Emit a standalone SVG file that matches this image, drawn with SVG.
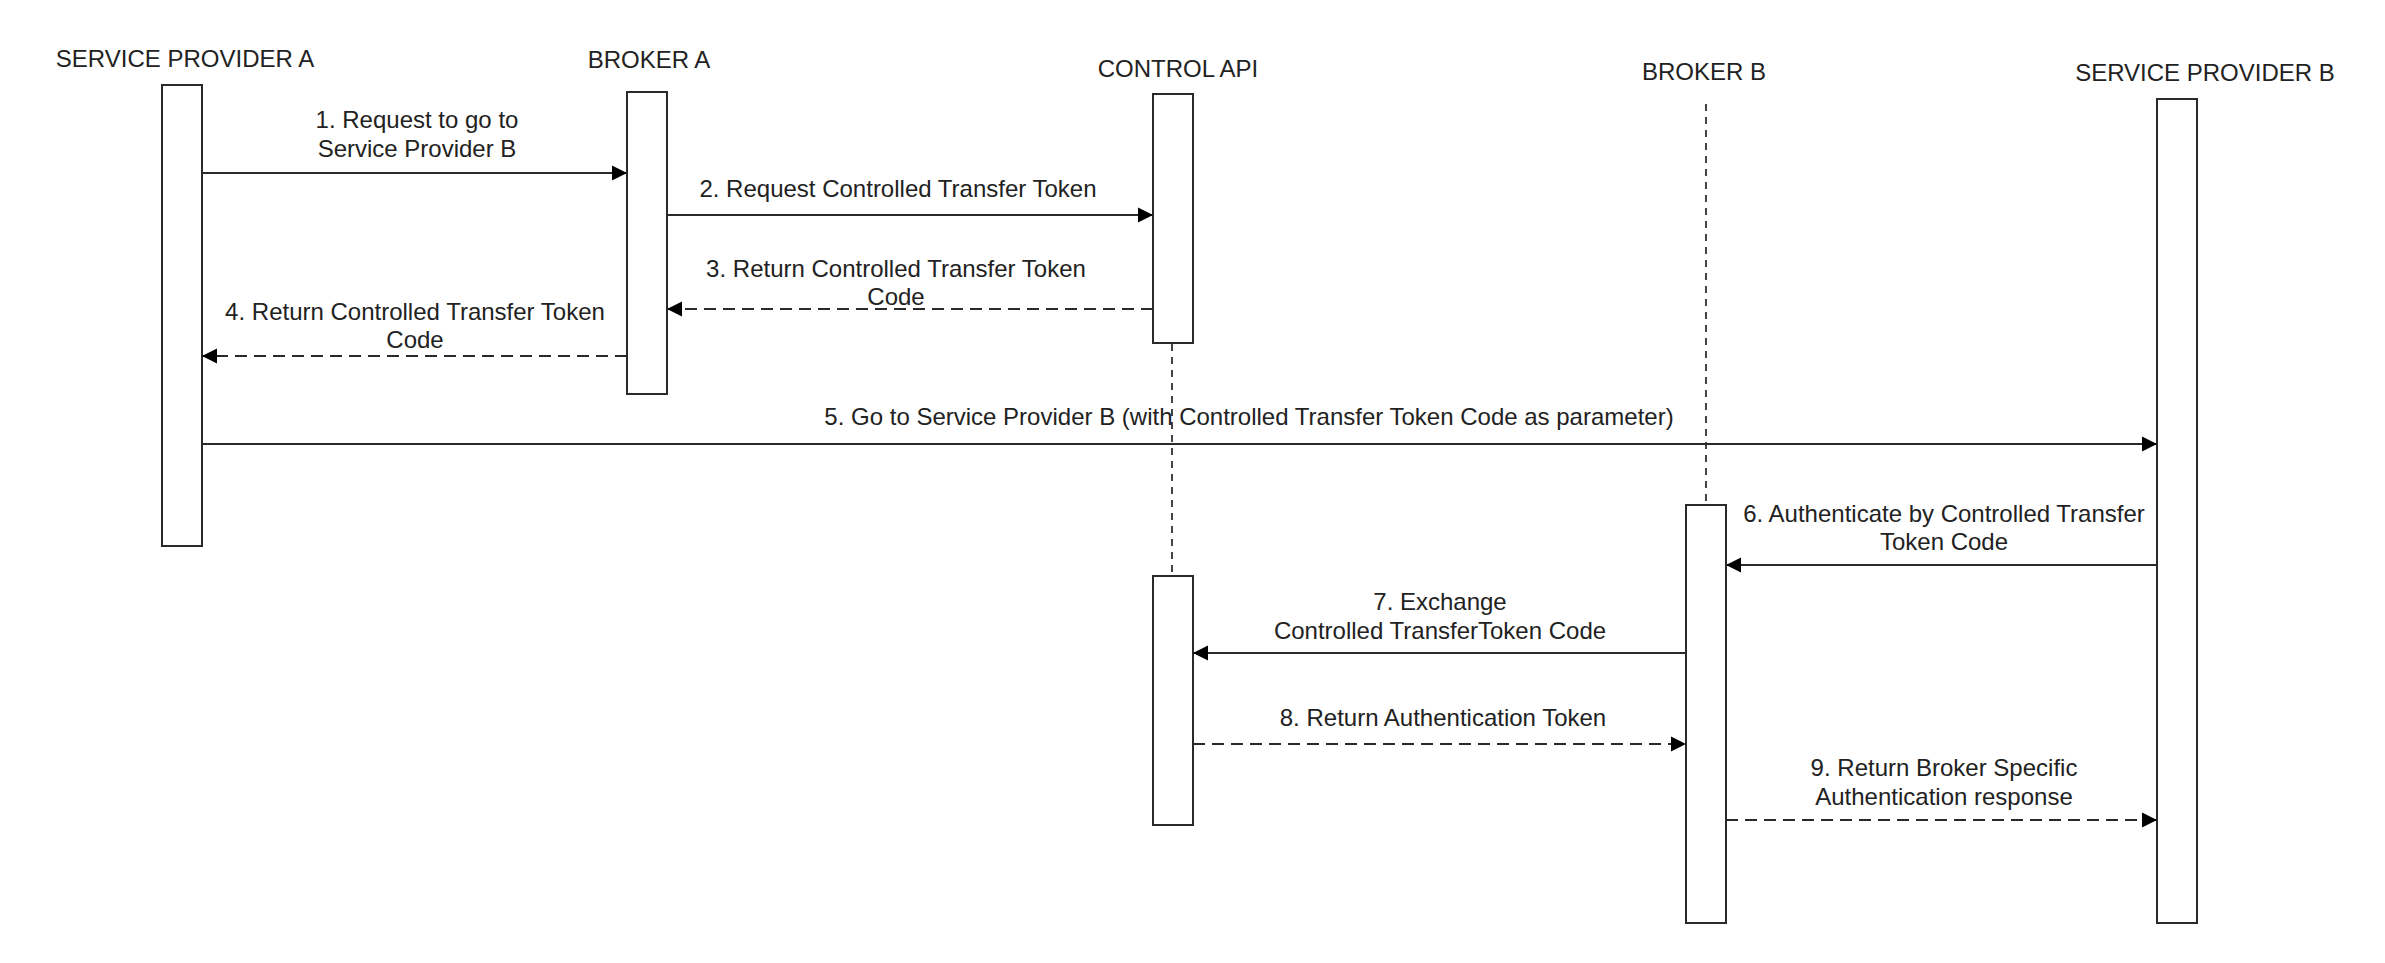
<svg xmlns="http://www.w3.org/2000/svg" width="2385" height="963" viewBox="0 0 2385 963">
  <style>
    .hdr { font-family: "Liberation Sans", Arial, sans-serif; font-size: 24px; fill: #222; text-anchor: middle; }
    .lbl { font-family: "Liberation Sans", Arial, sans-serif; font-size: 24px; fill: #222; text-anchor: middle; }
    .act { fill: #ffffff; stroke: #2a2a2a; stroke-width: 2; }
    .life { stroke: #444; stroke-width: 2; stroke-dasharray: 7 6; fill: none; }
    .msg { stroke: #2a2a2a; stroke-width: 2; fill: none; marker-end: url(#arrow); }
    .ret { stroke: #2a2a2a; stroke-width: 2; fill: none; stroke-dasharray: 12 7; marker-end: url(#arrow); }
  </style>
  <defs>
    <marker id="arrow" markerUnits="userSpaceOnUse" markerWidth="16" markerHeight="16" refX="15" refY="8" orient="auto">
      <path d="M0,0.5 L15,8 L0,15.5 z" fill="#000"/>
    </marker>
  </defs>
  <rect width="2385" height="963" fill="#ffffff"/>

  <g id="service-provider-a">
    <text class="hdr" x="185" y="67">SERVICE PROVIDER A</text>
    <rect class="act" x="162" y="85" width="40" height="461"/>
  </g>

  <g id="broker-a">
    <text class="hdr" x="649" y="68">BROKER A</text>
    <rect class="act" x="627" y="92" width="40" height="302"/>
  </g>

  <g id="control-api">
    <text class="hdr" x="1178" y="77">CONTROL API</text>
    <line class="life" x1="1172" y1="344" x2="1172" y2="576"/>
    <rect class="act" x="1153" y="94" width="40" height="249"/>
    <rect class="act" x="1153" y="576" width="40" height="249"/>
  </g>

  <g id="broker-b">
    <text class="hdr" x="1704" y="80">BROKER B</text>
    <line class="life" x1="1706" y1="104" x2="1706" y2="505"/>
    <rect class="act" x="1686" y="505" width="40" height="418"/>
  </g>

  <g id="service-provider-b">
    <text class="hdr" x="2205" y="81">SERVICE PROVIDER B</text>
    <rect class="act" x="2157" y="99" width="40" height="824"/>
  </g>

  <g id="connectors">
    <line class="msg" x1="202" y1="173" x2="627" y2="173"/>
    <text class="lbl" x="417" y="128">1. Request to go to</text>
    <text class="lbl" x="417" y="157">Service Provider B</text>

    <line class="msg" x1="667" y1="215" x2="1153" y2="215"/>
    <text class="lbl" x="898" y="197">2. Request Controlled Transfer Token</text>

    <line class="ret" x1="1153" y1="309" x2="667" y2="309"/>
    <text class="lbl" x="896" y="277">3. Return Controlled Transfer Token</text>
    <text class="lbl" x="896" y="305">Code</text>

    <line class="ret" x1="627" y1="356" x2="202" y2="356"/>
    <text class="lbl" x="415" y="320">4. Return Controlled Transfer Token</text>
    <text class="lbl" x="415" y="348">Code</text>

    <line class="msg" x1="202" y1="444" x2="2157" y2="444"/>
    <text class="lbl" x="1249" y="425">5. Go to Service Provider B (with Controlled Transfer Token Code as parameter)</text>

    <line class="msg" x1="2157" y1="565" x2="1726" y2="565"/>
    <text class="lbl" x="1944" y="522">6. Authenticate by Controlled Transfer</text>
    <text class="lbl" x="1944" y="550">Token Code</text>

    <line class="msg" x1="1686" y1="653" x2="1193" y2="653"/>
    <text class="lbl" x="1440" y="610">7. Exchange</text>
    <text class="lbl" x="1440" y="639">Controlled TransferToken Code</text>

    <line class="ret" x1="1193" y1="744" x2="1686" y2="744"/>
    <text class="lbl" x="1443" y="726">8. Return Authentication Token</text>

    <line class="ret" x1="1726" y1="820" x2="2157" y2="820"/>
    <text class="lbl" x="1944" y="776">9. Return Broker Specific</text>
    <text class="lbl" x="1944" y="805">Authentication response</text>
  </g>
</svg>
